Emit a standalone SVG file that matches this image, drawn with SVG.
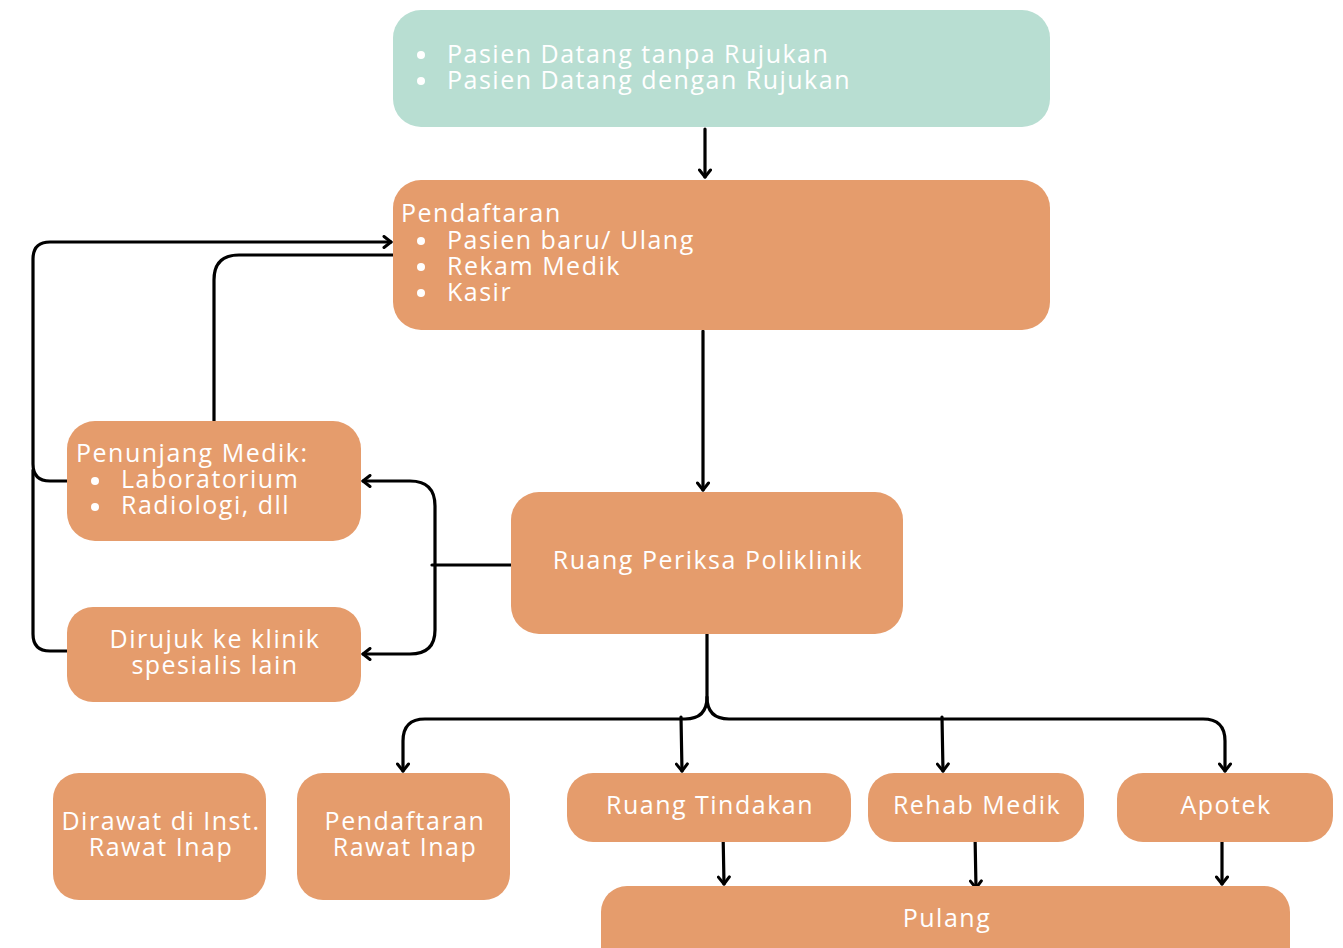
<svg xmlns="http://www.w3.org/2000/svg" width="1343" height="948" viewBox="0 0 1343 948">
<defs>
<style>
.o{fill:#E59C6C}
.t{fill:#B8DED2}
text{font-family:"Open Sans","Liberation Sans",sans-serif;font-size:25px;letter-spacing:1.5px;fill:#FFFFFF}
.c{text-anchor:middle}
.e{fill:none;stroke:#000;stroke-width:3.2;stroke-linecap:round;stroke-linejoin:round}
</style>
<marker id="a" viewBox="0 0 14 14" refX="11" refY="7" markerWidth="14" markerHeight="14" markerUnits="userSpaceOnUse" orient="auto">
<path d="M4,1.5 L11,7 L4,12.5" fill="none" stroke="#000" stroke-width="3" stroke-linecap="round" stroke-linejoin="round"/>
</marker>
</defs>
<rect width="1343" height="948" fill="#FFFFFF"/>
<g id="connectors">
<path class="e" d="M705,129 V177" marker-end="url(#a)"/>
<path class="e" d="M703,331 V490" marker-end="url(#a)"/>
<path class="e" d="M67,481 H50 Q33,481 33,464 V259 Q33,242 50,242 H391" marker-end="url(#a)"/>
<path class="e" d="M67,651 H50 Q33,651 33,634 V470"/>
<path class="e" d="M214,421 V280 Q214,255 239,255 H393"/>
<path class="e" d="M511,565 H432"/>
<path class="e" d="M435,565 V506 Q435,481 410,481 H363" marker-end="url(#a)"/>
<path class="e" d="M435,565 V630 Q435,654 410,654 H363" marker-end="url(#a)"/>
<path class="e" d="M707,634 V697 Q707,719 685,719 H425 Q403,719 403,741 V771" marker-end="url(#a)"/>
<path class="e" d="M707,697 Q707,719 729,719 H1203 Q1225,719 1225,741 V771" marker-end="url(#a)"/>
<path class="e" d="M681,717 L682,771" marker-end="url(#a)"/>
<path class="e" d="M942,717 L943,771" marker-end="url(#a)"/>
<path class="e" d="M723,830 L724,884" marker-end="url(#a)"/>
<path class="e" d="M975,834 L976,888" marker-end="url(#a)"/>
<path class="e" d="M1222,830 L1222,884" marker-end="url(#a)"/>
</g>
<g id="n-datang">
<rect class="t" x="393" y="10" width="657" height="117" rx="28"/>
<circle cx="421" cy="55" r="4" fill="#FFFFFF"/>
<circle cx="421" cy="81" r="4" fill="#FFFFFF"/>
<text x="447" y="63">Pasien Datang tanpa Rujukan</text>
<text x="447" y="89">Pasien Datang dengan Rujukan</text>
</g>
<g id="n-pendaftaran">
<rect class="o" x="393" y="180" width="657" height="150" rx="28"/>
<text x="401" y="222">Pendaftaran</text>
<circle cx="421" cy="241" r="4" fill="#FFFFFF"/>
<circle cx="421" cy="267" r="4" fill="#FFFFFF"/>
<circle cx="421" cy="293" r="4" fill="#FFFFFF"/>
<text x="447" y="249">Pasien baru/ Ulang</text>
<text x="447" y="275">Rekam Medik</text>
<text x="447" y="301">Kasir</text>
</g>
<g id="n-penunjang">
<rect class="o" x="67" y="421" width="294" height="120" rx="28"/>
<text x="76" y="462">Penunjang Medik:</text>
<circle cx="95" cy="481" r="4" fill="#FFFFFF"/>
<circle cx="95" cy="507" r="4" fill="#FFFFFF"/>
<text x="121" y="488">Laboratorium</text>
<text x="121" y="514">Radiologi, dll</text>
</g>
<g id="n-dirujuk">
<rect class="o" x="67" y="607" width="294" height="95" rx="26"/>
<text class="c" x="215" y="648">Dirujuk ke klinik</text>
<text class="c" x="215" y="674">spesialis lain</text>
</g>
<g id="n-periksa">
<rect class="o" x="511" y="492" width="392" height="142" rx="28"/>
<text class="c" x="708" y="569">Ruang Periksa Poliklinik</text>
</g>
<g id="n-dirawat">
<rect class="o" x="53" y="773" width="213" height="127" rx="26"/>
<text class="c" x="161" y="830">Dirawat di Inst.</text>
<text class="c" x="161" y="856">Rawat Inap</text>
</g>
<g id="n-pendaftaran-ri">
<rect class="o" x="297" y="773" width="213" height="127" rx="26"/>
<text class="c" x="405" y="830">Pendaftaran</text>
<text class="c" x="405" y="856">Rawat Inap</text>
</g>
<g id="n-tindakan">
<rect class="o" x="567" y="773" width="284" height="69" rx="26"/>
<text class="c" x="710" y="814">Ruang Tindakan</text>
</g>
<g id="n-rehab">
<rect class="o" x="868" y="773" width="216" height="69" rx="26"/>
<text class="c" x="977" y="814">Rehab Medik</text>
</g>
<g id="n-apotek">
<rect class="o" x="1117" y="773" width="216" height="69" rx="26"/>
<text class="c" x="1226" y="814">Apotek</text>
</g>
<g id="n-pulang">
<rect class="o" x="601" y="886" width="689" height="90" rx="26"/>
<text class="c" x="947" y="927">Pulang</text>
</g>
</svg>
